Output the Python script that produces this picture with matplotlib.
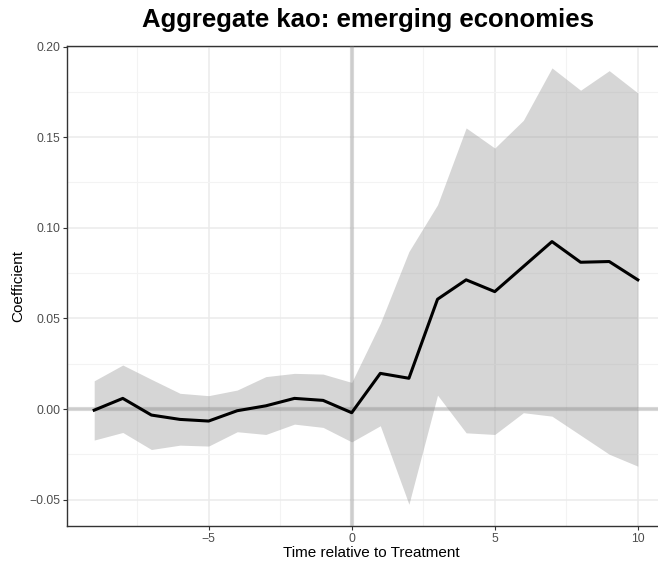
import matplotlib
matplotlib.use("Agg")
import matplotlib.pyplot as plt
from matplotlib.ticker import MultipleLocator

plt.rcParams['font.family'] = ['Liberation Sans', 'DejaVu Sans']

# event-study estimates
periods = [-9, -8, -7, -6, -5, -4, -3, -2, -1, 0, 1, 2, 3, 4, 5, 6, 7, 8, 9, 10]
coef = [-0.0006, 0.0059, -0.0033, -0.0057, -0.0066, -0.0009, 0.0018, 0.0059, 0.0048, -0.0020,
        0.0197, 0.0170, 0.0606, 0.0713, 0.0648, 0.0786, 0.0924, 0.0810, 0.0814, 0.0713]
ci_upper = [0.0156, 0.0243, 0.0164, 0.0087, 0.0074, 0.0105, 0.0179, 0.0197, 0.0193, 0.0147,
            0.0473, 0.0869, 0.1127, 0.1551, 0.1440, 0.1593, 0.1882, 0.1759, 0.1867, 0.1744]
ci_lower = [-0.0171, -0.0129, -0.0223, -0.0199, -0.0204, -0.0125, -0.0140, -0.0083, -0.0101, -0.0181,
            -0.0092, -0.0525, 0.0077, -0.0131, -0.0140, -0.0020, -0.0039, -0.0144, -0.0249, -0.0315]

title = "Aggregate kao: emerging economies"

fig = plt.figure(figsize=(6.58, 5.64), dpi=100)
# panel runs past the right edge, as in the source image
ax = fig.add_axes([67 / 658, 1 - 526 / 564, 598 / 658, 480 / 564])

ax.fill_between(periods, ci_lower, ci_upper, color='#999999', alpha=0.4, linewidth=0, zorder=2)
ax.axhline(0, color='#808080', alpha=0.3, linewidth=3, zorder=3)
ax.axvline(0, color='#808080', alpha=0.3, linewidth=3, zorder=3)
ax.plot(periods, coef, color='black', linewidth=2.2, zorder=4)

ax.set_xlim(-9.95, 10.95)
ax.set_ylim(-0.0645, 0.2003)
ax.xaxis.set_minor_locator(MultipleLocator(2.5))
ax.yaxis.set_minor_locator(MultipleLocator(0.025))
ax.set_xticks([-5, 0, 5, 10])
ax.set_xticklabels(['\u22125', '0', '5', '10'])
ax.set_yticks([-0.05, 0.0, 0.05, 0.10, 0.15, 0.20])
ax.set_yticklabels(['\u22120.05', '0.00', '0.05', '0.10', '0.15', '0.20'])

ax.grid(which='major', color='#ebebeb', linewidth=1.1, zorder=0)
ax.grid(which='minor', color='#f3f3f3', linewidth=0.8, zorder=0)
ax.set_axisbelow(True)

for side in ['left', 'bottom', 'top']:
    ax.spines[side].set_color('#333333')
    ax.spines[side].set_linewidth(1.0)
ax.spines['right'].set_visible(False)
ax.tick_params(which='major', length=2.75, width=0.8, color='#333333',
               labelcolor='#4d4d4d', labelsize=8.8, pad=2)
ax.tick_params(which='minor', length=0)

ax.set_xlabel('Time relative to Treatment', fontsize=11, va='center')
ax.xaxis.set_label_coords((371 - 67) / 598, (526 - 553) / 480)
ax.set_ylabel('Coefficient', fontsize=11, va='center')
ax.yaxis.set_label_coords((18.5 - 67) / 598, 0.5)
fig.text(368 / 658, 1 - 27 / 564, title, ha='center', va='baseline',
         fontsize=18.5, fontweight='bold')

fig.savefig('out.png', dpi=100)
